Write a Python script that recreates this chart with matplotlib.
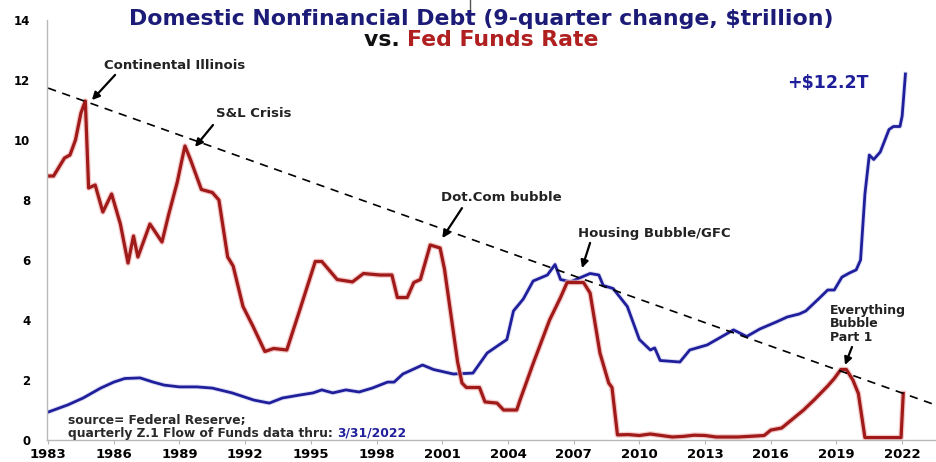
import matplotlib.pyplot as plt
import matplotlib.patheffects as pe
from matplotlib.offsetbox import TextArea, HPacker, VPacker, AnnotationBbox

# Fed Funds rate (red) as (year, %) breakpoints
fed_years = [1983.0, 1983.25, 1983.5, 1983.75, 1984.0, 1984.25, 1984.5, 1984.7, 1984.85, 1985.15,
             1985.5, 1985.9, 1986.3, 1986.65, 1986.9, 1987.1, 1987.4, 1987.65, 1988.2, 1988.5,
             1988.9, 1989.1, 1989.25, 1989.5, 1990.0, 1990.5, 1990.8, 1991.2, 1991.45, 1991.9,
             1992.35, 1992.9, 1993.3, 1993.9, 1994.5, 1995.2, 1995.5, 1996.2, 1996.9, 1997.4,
             1998.15, 1998.7, 1998.95, 1999.4, 1999.7, 2000.0, 2000.45, 2000.9, 2001.1, 2001.7,
             2001.9, 2002.1, 2002.7, 2002.95, 2003.5, 2003.8, 2004.4, 2004.55, 2005.15, 2005.9,
             2006.4, 2006.7, 2007.45, 2007.75, 2008.2, 2008.6, 2008.75, 2009.0, 2009.5, 2010.0,
             2010.5, 2011.0, 2011.5, 2012.0, 2012.5, 2013.0, 2013.5, 2014.5, 2015.0, 2015.7,
             2016.0, 2016.5, 2017.0, 2017.5, 2018.0, 2018.6, 2018.9, 2019.2, 2019.45, 2019.75,
             2020.0, 2020.3, 2021.0, 2021.95, 2022.05]
fed_rate = [8.8, 8.8, 9.1, 9.4, 9.5, 10.0, 10.9, 11.3, 8.4, 8.5,
            7.6, 8.2, 7.2, 5.9, 6.8, 6.1, 6.7, 7.2, 6.6, 7.5,
            8.6, 9.3, 9.8, 9.35, 8.35, 8.25, 8.0, 6.1, 5.8, 4.45,
            3.8, 2.95, 3.05, 3.0, 4.35, 5.95, 5.95, 5.35, 5.27, 5.55,
            5.5, 5.5, 4.75, 4.75, 5.25, 5.35, 6.5, 6.4, 5.7, 2.6,
            1.9, 1.75, 1.75, 1.27, 1.23, 1.0, 1.0, 1.33, 2.55, 4.0,
            4.75, 5.25, 5.25, 4.9, 2.9, 1.9, 1.75, 0.17, 0.18, 0.15,
            0.2, 0.15, 0.1, 0.12, 0.16, 0.15, 0.1, 0.1, 0.12, 0.15,
            0.33, 0.4, 0.7, 1.0, 1.35, 1.8, 2.05, 2.35, 2.35, 2.0,
            1.55, 0.08, 0.08, 0.08, 1.55]

# Domestic nonfinancial debt, 9-quarter change in $trillion (blue)
debt_years = [1983.0, 1983.9, 1984.6, 1985.4, 1986.0, 1986.5, 1987.2, 1987.8, 1988.3, 1989.0,
              1989.8, 1990.5, 1991.4, 1992.4, 1993.1, 1993.7, 1994.5, 1995.1, 1995.5, 1996.0,
              1996.6, 1997.2, 1997.8, 1998.5, 1998.8, 1999.2, 2000.1, 2000.6, 2001.5, 2002.4,
              2003.05, 2003.95, 2004.25, 2004.7, 2005.15, 2005.8, 2006.15, 2006.4, 2006.85, 2007.75,
              2008.15, 2008.35, 2008.8, 2009.45, 2010.0, 2010.5, 2010.7, 2010.95, 2011.85, 2012.3,
              2013.1, 2014.3, 2014.9, 2015.5, 2016.3, 2016.75, 2017.3, 2017.6, 2018.25, 2018.6,
              2018.9, 2019.25, 2019.6, 2019.9, 2020.1, 2020.3, 2020.5, 2020.7, 2021.0, 2021.4,
              2021.6, 2021.9, 2022.0, 2022.15]
debt_change = [0.93, 1.17, 1.4, 1.73, 1.93, 2.05, 2.07, 1.93, 1.83, 1.77,
               1.77, 1.73, 1.57, 1.33, 1.23, 1.4, 1.5, 1.57, 1.67, 1.57,
               1.67, 1.6, 1.73, 1.93, 1.93, 2.2, 2.5, 2.35, 2.2, 2.23,
               2.9, 3.35, 4.3, 4.7, 5.3, 5.5, 5.85, 5.35, 5.27, 5.55,
               5.5, 5.15, 5.05, 4.45, 3.35, 3.0, 3.07, 2.65, 2.6, 3.0,
               3.17, 3.67, 3.45, 3.7, 3.95, 4.1, 4.2, 4.3, 4.75, 5.0,
               5.0, 5.43, 5.57, 5.67, 6.0, 8.2, 9.5, 9.35, 9.6, 10.35,
               10.45, 10.45, 10.8, 12.2]

trend_years = [1983.0, 2023.4]
trend_vals = [11.73, 1.2]

year_ticks = list(range(1983, 2023, 3))
value_ticks = [0, 2, 4, 6, 8, 10, 12, 14]

# (label, text position, arrow tail, arrow head)
notes = [
    ("Continental Illinois", (1988.8, 12.5), (1986.06, 12.17), (1985.0, 11.33)),
    ("S&L Crisis", (1992.4, 10.9), (1990.53, 10.5), (1989.71, 9.77)),
    ("Dot.Com bubble", (2003.7, 8.1), (2001.9, 7.73), (2001.0, 6.73)),
    ("Housing Bubble/GFC", (2010.7, 6.9), (2007.75, 6.57), (2007.38, 5.73)),
]

NAVY = "#1c1c78"
BLUE = "#1f1f9c"
RED = "#a01a1a"
TXT = "#222222"

plt.rcParams['font.family'] = ['DejaVu Sans']
fig = plt.figure(figsize=(9.36, 4.62), dpi=100)
ax = fig.add_axes([47/936, 22/462, 888/936, 420/462])

ax.plot(debt_years, debt_change, color=BLUE, lw=2.0, solid_joinstyle='round',
        path_effects=[pe.Stroke(linewidth=3.4, foreground="#c8c8ee", alpha=0.6), pe.Normal()])
ax.plot(fed_years, fed_rate, color=RED, lw=2.3, solid_joinstyle='round',
        path_effects=[pe.Stroke(linewidth=4.1, foreground="#f0b4b4", alpha=0.7), pe.Normal()])
ax.plot(trend_years, trend_vals, color='black', lw=1.2, dashes=(5, 4))

ax.set_xlim(1982.95, 2023.5)
ax.set_ylim(0, 14)
ax.set_xticks(year_ticks)
ax.set_yticks(value_ticks)
for s in ['top', 'right']:
    ax.spines[s].set_visible(False)
for s in ['left', 'bottom']:
    ax.spines[s].set_color('#b8b8b8')
    ax.spines[s].set_linewidth(1.0)
ax.tick_params(axis='x', length=3, color='#b8b8b8', pad=3, labelsize=9.5)
ax.tick_params(axis='y', length=0, pad=12, labelsize=8.5)
for lab in ax.get_xticklabels() + ax.get_yticklabels():
    lab.set_fontweight('bold')

for label, txy, tail, head in notes:
    ax.text(txy[0], txy[1], label, ha='center', va='center', fontsize=9.5,
            fontweight='bold', color=TXT)
    ax.annotate('', xy=head, xytext=tail,
                arrowprops=dict(arrowstyle='-|>', color='black', lw=1.6,
                                mutation_scale=11, shrinkA=0, shrinkB=0))

ax.text(2018.7, 3.88, "Everything\nBubble\nPart 1", ha='left', va='center', fontsize=9,
        fontweight='bold', color=TXT, linespacing=1.05)
ax.annotate('', xy=(2019.39, 2.5), xytext=(2019.71, 3.1),
            arrowprops=dict(arrowstyle='-|>', color='black', lw=1.6,
                            mutation_scale=11, shrinkA=0, shrinkB=0))

ax.text(2018.6, 11.9, "+$12.2T", ha='center', va='center', fontsize=12.5,
        fontweight='bold', color=BLUE)

# two-line title, second line in two colours
title_fs = 15.8
t1 = TextArea("Domestic Nonfinancial Debt (9-quarter change, $trillion)",
              textprops=dict(fontsize=title_fs, fontweight='bold', color=NAVY))
t2 = HPacker(children=[TextArea("vs. ", textprops=dict(fontsize=title_fs, fontweight='bold', color='#111111')),
                       TextArea("Fed Funds Rate", textprops=dict(fontsize=title_fs, fontweight='bold', color='#b02020'))],
             align='baseline', pad=0, sep=0)
title = VPacker(children=[t1, t2], align='center', pad=0, sep=1)
fig.add_artist(AnnotationBbox(title, (481/936, 1 - 29.5/462), xycoords='figure fraction',
                              frameon=False, box_alignment=(0.5, 0.5)))

src_style = dict(fontsize=8.8, fontweight='bold', color='#2a2a2a')
s1 = TextArea("source= Federal Reserve;", textprops=src_style)
s2 = HPacker(children=[TextArea("quarterly Z.1 Flow of Funds data thru: ", textprops=src_style),
                       TextArea("3/31/2022", textprops=dict(fontsize=8.8, fontweight='bold', color=BLUE))],
             align='baseline', pad=0, sep=0)
src = VPacker(children=[s1, s2], align='left', pad=0, sep=0)
fig.add_artist(AnnotationBbox(src, (68/936, 1 - 427/462), xycoords='figure fraction',
                              frameon=False, box_alignment=(0, 0.5)))

# stray mark at the top of the original image
fig.add_artist(plt.Line2D([470/936, 470/936], [1.0, 1 - 15/462], color='#555555', lw=1.0))

fig.savefig('out.png', dpi=100)
